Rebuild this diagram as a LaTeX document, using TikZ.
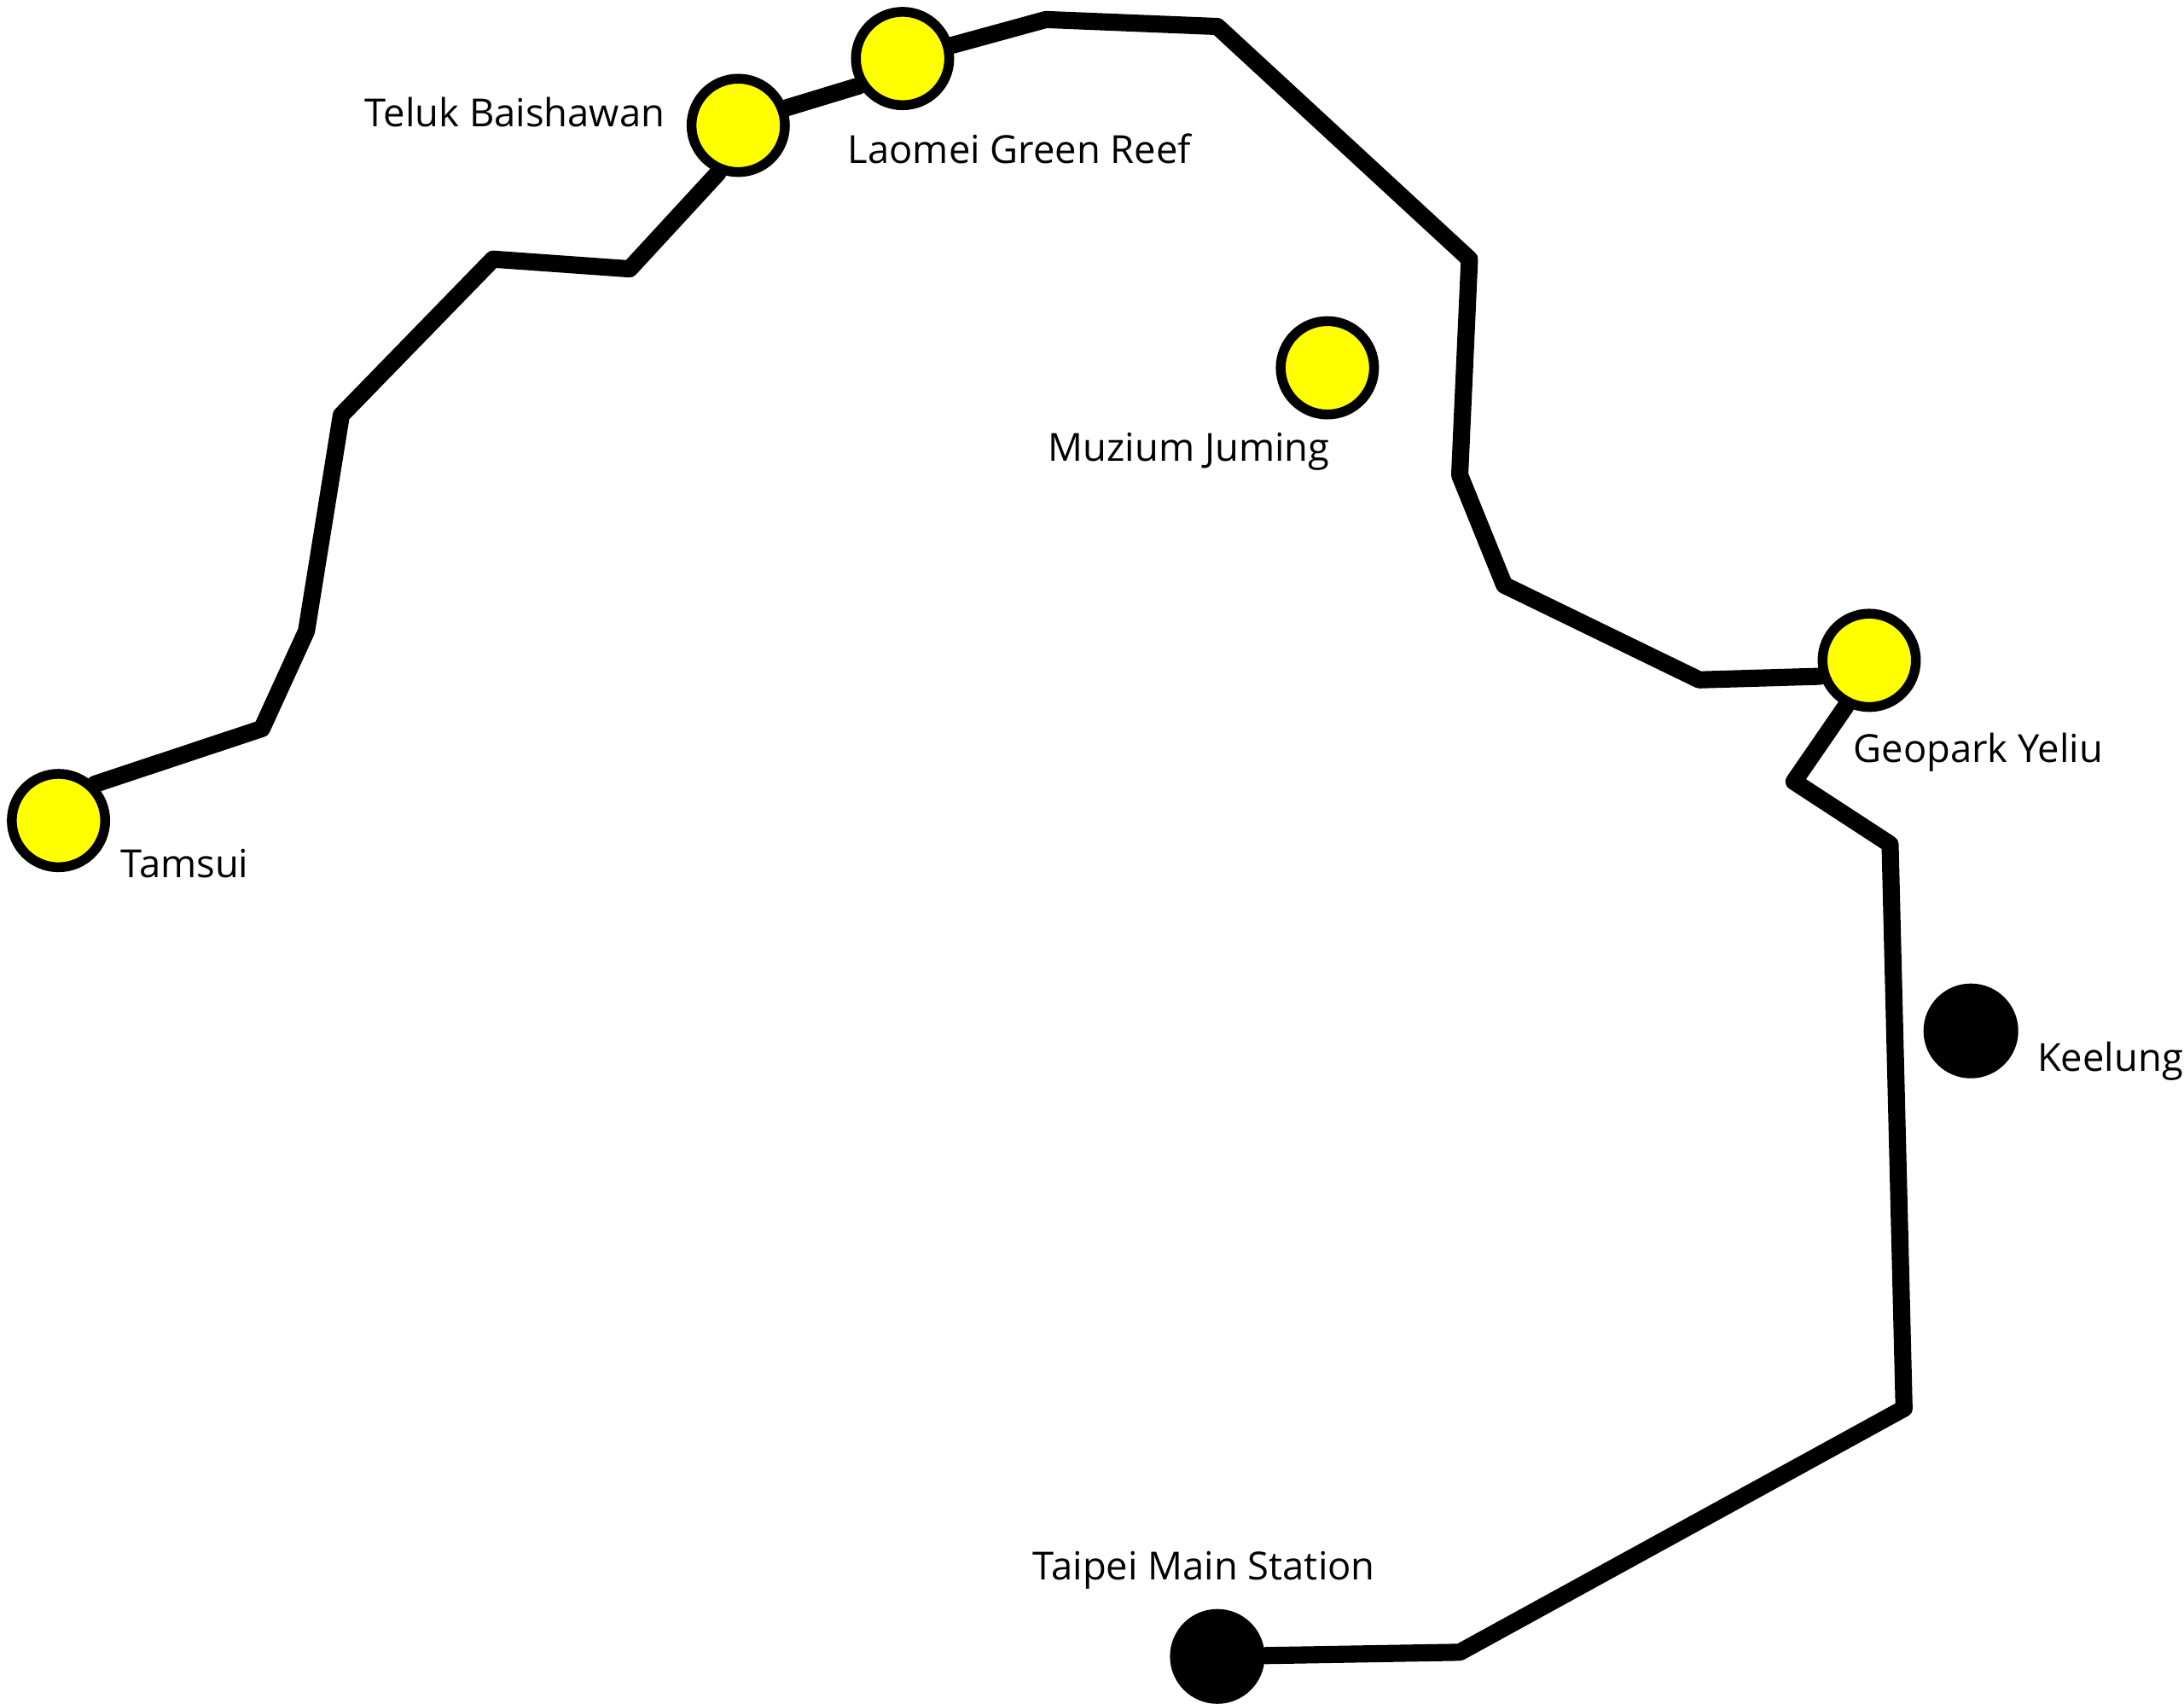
\documentclass[tikz,border=0pt]{standalone}
\usepackage{fontspec}
\setmainfont{Open Sans}
\definecolor{stopyellow}{RGB}{255,255,0}
\tikzset{
  rail/.style={line width=3.5pt, line join=round, line cap=round},
  stop/.style={circle, draw=black, line width=2pt, fill=stopyellow, minimum size=0.67cm, inner sep=0pt},
  city/.style={circle, fill=black, minimum size=0.68cm, inner sep=0pt},
  lbl/.style={inner sep=0pt, font=\fontsize{7.9pt}{10pt}\selectfont}
}
\begin{document}
\begin{tikzpicture}[x=0.01cm,y=-0.01cm]
      \useasboundingbox (0,0) rectangle (1568,1223);
      \coordinate (r1) at (188,523);
      \coordinate (r2) at (220,453);
      \coordinate (r3) at (245,298);
      \coordinate (r4) at (354,186);
      \coordinate (r5) at (452,193);
      \coordinate (r6) at (751,14);
      \coordinate (r7) at (874,19);
      \coordinate (r8) at (1055,186);
      \coordinate (r9) at (1048,341);
      \coordinate (r10) at (1080,420);
      \coordinate (r11) at (1220,488);
      \coordinate (r12) at (1288,561);
      \coordinate (r13) at (1357,606);
      \coordinate (r14) at (1367,1011);
      \coordinate (r15) at (1048,1186);
      \node [stop] (tamsui) at (42,589) {};
      \node [stop] (baishawan) at (530,90) {};
      \node [stop] (laomei) at (648,42) {};
      \node [stop] (juming) at (953,264) {};
      \node [stop] (yeliu) at (1342,474) {};
      \node [city] (keelung) at (1415,740) {};
      \node [city] (taipei) at (874,1189) {};
      \draw [rail] (tamsui.45) -- (r1) -- (r2) -- (r3) -- (r4) -- (r5) -- (baishawan.247);
      \draw [rail] (baishawan.20) -- (laomei.212);
      \draw [rail] (laomei.15) -- (r6) -- (r7) -- (r8) -- (r9) -- (r10) -- (r11) -- (yeliu.198);
      \draw [rail] (yeliu.243) -- (r12) -- (r13) -- (r14) -- (r15) -- (taipei);
      \node [lbl, anchor=base west] (ltamsui) at (86,630) {Tamsui};
      \node [lbl, anchor=base east] (lbaishawan) at (478,91) {Teluk Baishawan};
      \node [lbl, anchor=base west] (llaomei) at (608,117) {Laomei Green Reef};
      \node [lbl, anchor=base west] (ljuming) at (752,331) {Muzium Juming};
      \node [lbl, anchor=base west] (lyeliu) at (1330,547) {Geopark Yeliu};
      \node [lbl, anchor=base west] (lkeelung) at (1462,769) {Keelung};
      \node [lbl, anchor=base west] (ltaipei) at (741,1134) {Taipei Main Station};
\end{tikzpicture}
\end{document}
